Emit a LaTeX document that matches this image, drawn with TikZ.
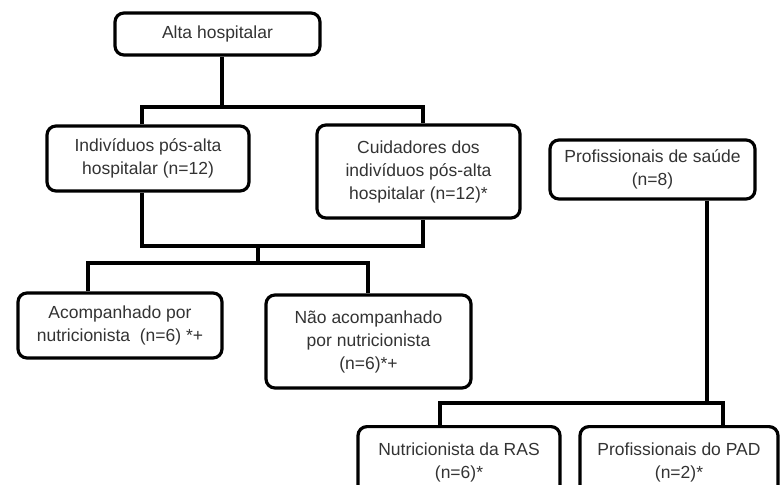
\documentclass[tikz,border=0pt]{standalone}
\usepackage{fontspec}
\setmainfont{Liberation Sans}
\definecolor{txt}{HTML}{333333}
\begin{document}
\begin{tikzpicture}[x=1pt,y=-1pt,
  box/.style={draw=black,line width=3.2pt,rounded corners=9pt,align=center,
    text=txt,font=\fontsize{17.5}{23}\selectfont,inner sep=0pt},
  conn/.style={draw=black,line width=3.2pt}]
\useasboundingbox (0,0) rectangle (780,485);
\clip (0,0) rectangle (780,485);
\node[box,minimum width=205pt,minimum height=42pt] (alta) at (217.5,34) {Alta hospitalar};
\node[box,minimum width=202pt,minimum height=65pt] (ind) at (148,158.5) {Indivíduos pós-alta\\hospitalar (n=12)};
\node[box,minimum width=203pt,minimum height=93pt] (cui) at (418.5,171.5) {Cuidadores dos\\indivíduos pós-alta\\hospitalar (n=12)*};
\node[box,minimum width=204pt,minimum height=65pt] (acomp) at (120,325.5) {Acompanhado por\\nutricionista \ (n=6) *+};
\node[box,minimum width=205pt,minimum height=93pt] (nao) at (368.5,341.5) {Não acompanhado\\por nutricionista\\(n=6)*+};
\node[box,minimum width=205pt,minimum height=59pt] (prof) at (652.5,169.5) {Profissionais de saúde\\(n=8)};
\node[box,minimum width=202pt,minimum height=72pt,anchor=north] (nut) at (459,425) {Nutricionista da RAS\\(n=6)*};
\node[box,minimum width=198pt,minimum height=72pt,anchor=north] (pad) at (679,425) {Profissionais do PAD\\(n=2)*};
\coordinate (a0) at (222,107);
\coordinate (a1) at (142,107);
\coordinate (a2) at (423,107);
\coordinate (b0) at (258,246);
\coordinate (b1) at (142,246);
\coordinate (b2) at (423,246);
\coordinate (c0) at (258,263);
\coordinate (c1) at (88,263);
\coordinate (c2) at (368,263);
\coordinate (d0) at (707,403);
\coordinate (d1) at (440,403);
\coordinate (d2) at (723,403);
\draw[conn] (alta.south -| a0) -- (a0);
\draw[conn] (ind.north -| a1) |- (a2) -- (cui.north -| a2);
\draw[conn] (ind.south -| b1) |- (b2) -- (cui.south -| b2);
\draw[conn] (b0) -- (c0);
\draw[conn] (acomp.north -| c1) |- (c2) -- (nao.north -| c2);
\draw[conn] (prof.south -| d0) -- (d0);
\draw[conn] (nut.north -| d1) |- (d2) -- (pad.north -| d2);
\end{tikzpicture}
\end{document}
